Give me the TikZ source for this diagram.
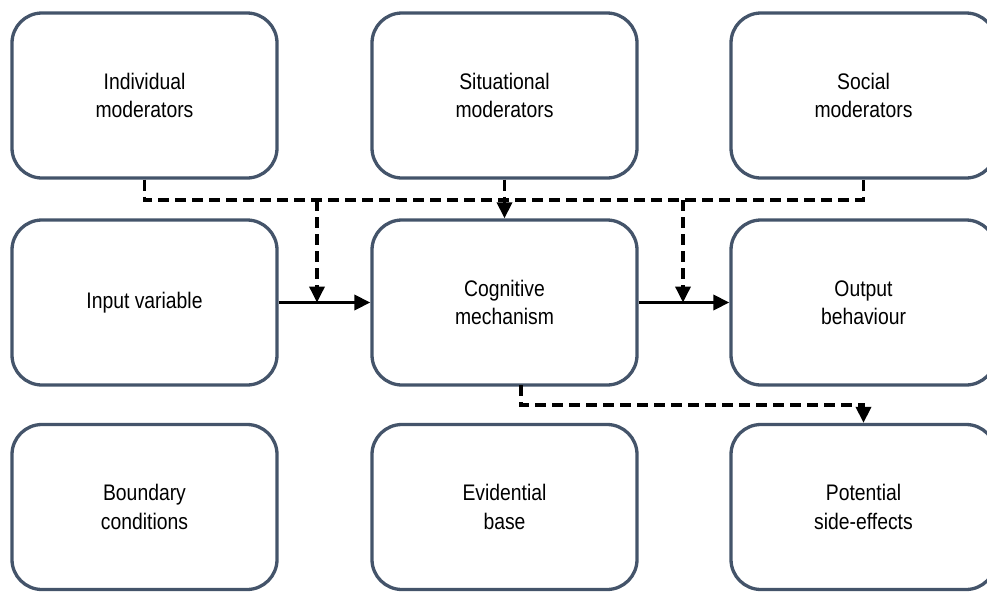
\documentclass[tikz,border=0pt]{standalone}
\usepackage{fontspec}
\setmainfont{Liberation Sans}[FakeStretch=0.86]
\usetikzlibrary{arrows.meta}
\definecolor{boxline}{HTML}{44546A}
\begin{document}
\begin{tikzpicture}[x=1pt,y=-1pt,
  box/.style={draw=boxline,line width=3.3pt,rounded corners=30pt,
    minimum width=265pt,minimum height=165pt,align=center,
    font=\fontsize{22.5}{28.5}\selectfont,text=black},
  dsh/.style={draw=black,line width=3.5pt,dash pattern=on 11pt off 6pt},
  sol/.style={draw=black,line width=3.5pt},
  tip/.style={-{Triangle[length=16pt,width=15pt]}}]
\useasboundingbox (0,0) rectangle (987,592);
\node[box] (ind) at (144.5,95.5) {Individual\\moderators};
\node[box] (sit) at (504.5,95.5) {Situational\\moderators};
\node[box] (soc) at (863.5,95.5) {Social\\moderators};
\node[box] (inp) at (144.5,302.5) {Input variable};
\node[box] (cog) at (504.5,302.5) {Cognitive\\mechanism};
\node[box] (out) at (863.5,302.5) {Output\\behaviour};
\node[box] (bnd) at (144.5,507) {Boundary\\conditions};
\node[box] (evi) at (504.5,507) {Evidential\\base};
\node[box] (pot) at (863.5,507) {Potential\\side-effects};
\coordinate (bus) at (0,200);
\coordinate (m1) at (317,302.5);
\coordinate (m2) at (683,302.5);
\coordinate (low) at (0,405);
\coordinate (cs) at (521,385);
\draw[dsh] (ind.south) -- (ind.south |- bus) -- (soc.south |- bus) -- (soc.south);
\draw[dsh,tip] (sit.south) -- (cog.north);
\draw[sol,tip] (inp.east) -- (cog.west);
\draw[sol,tip] (cog.east) -- (out.west);
\draw[dsh,tip] (m1 |- bus) -- (m1);
\draw[dsh,tip] (m2 |- bus) -- (m2);
\draw[dsh,tip] (cs) -- (cs |- low) -- (pot.north |- low) -- (pot.north);
\end{tikzpicture}
\end{document}
